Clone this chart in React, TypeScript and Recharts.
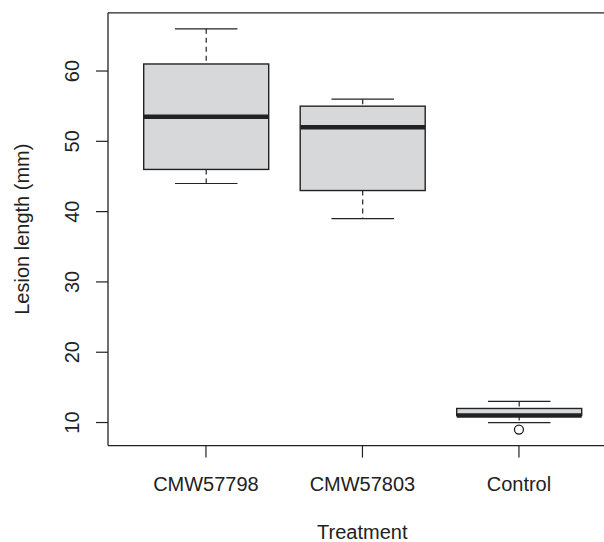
import { ComposedChart, Bar, Scatter, XAxis, YAxis, ReferenceLine } from "recharts"

const categories = ["CMW57798", "CMW57803", "Control"]
const whiskerLow = [44, 39, 10]
const lowerQuartile = [46, 43, 11]
const medians = [53.5, 52, 11]
const upperQuartile = [61, 55, 12]
const whiskerHigh = [66, 56, 13]
const outliers = [[], [], [9]]
const yTicks = [10, 20, 30, 40, 50, 60]

const FONT = "'Liberation Sans', Arial, sans-serif"
const INK = "#222"

const data = categories.map((name, i) => ({
  name,
  range: [whiskerLow[i], whiskerHigh[i]],
  min: whiskerLow[i],
  q1: lowerQuartile[i],
  median: medians[i],
  q3: upperQuartile[i],
  max: whiskerHigh[i],
}))

const outlierData = categories.flatMap((name, i) => outliers[i].map((value) => ({ name, value })))

// R style extents: data range padded by 4% on each side
const allValues = [...whiskerLow, ...whiskerHigh, ...outliers.flat()]
const lo = Math.min(...allValues)
const hi = Math.max(...allValues)
const pad = (hi - lo) * 0.04
const yDomain = [lo - pad, hi + pad]

function BoxShape(props: any) {
  const { x, y, width, height, payload } = props
  const top = Math.min(y, y + height)
  const h = Math.abs(height)
  const k = h / (payload.max - payload.min)
  const py = (v: number) => top + (payload.max - v) * k
  const cx = x + width / 2
  const capHalf = width / 4
  return (
    <g>
      <line x1={cx} x2={cx} y1={py(payload.max)} y2={py(payload.q3)} stroke={INK} strokeWidth={1.2} strokeDasharray="5 4" />
      <line x1={cx} x2={cx} y1={py(payload.q1)} y2={py(payload.min)} stroke={INK} strokeWidth={1.2} strokeDasharray="5 4" />
      <line x1={cx - capHalf} x2={cx + capHalf} y1={py(payload.max)} y2={py(payload.max)} stroke={INK} strokeWidth={1.2} />
      <line x1={cx - capHalf} x2={cx + capHalf} y1={py(payload.min)} y2={py(payload.min)} stroke={INK} strokeWidth={1.2} />
      <rect x={x} y={py(payload.q3)} width={width} height={py(payload.q1) - py(payload.q3)} fill="#d7d8da" stroke={INK} strokeWidth={1.4} />
      <line x1={x} x2={x + width} y1={py(payload.median)} y2={py(payload.median)} stroke={INK} strokeWidth={4.5} />
    </g>
  )
}

function Outlier(props: any) {
  const { cx, cy } = props
  return <circle cx={cx} cy={cy} r={4.5} fill="#fff" stroke={INK} strokeWidth={1.3} />
}

function YTick(props: any) {
  const { y, payload } = props
  return (
    <text x={79} y={y} transform={`rotate(-90, 79, ${y})`} textAnchor="middle" fontSize={20} fontFamily={FONT} fill={INK}>
      {payload.value}
    </text>
  )
}

function XTick(props: any) {
  const { x, payload } = props
  return (
    <text x={x} y={491} textAnchor="middle" fontSize={20} fontFamily={FONT} fill={INK}>
      {payload.value}
    </text>
  )
}

function YTitle(props: any) {
  const { viewBox } = props
  const cy = viewBox.y + viewBox.height / 2
  return (
    <text x={29} y={cy} transform={`rotate(-90, 29, ${cy})`} textAnchor="middle" fontSize={20} fontFamily={FONT} fill={INK}>
      Lesion length (mm)
    </text>
  )
}

function XTitle(props: any) {
  const { viewBox } = props
  const cx = viewBox.x + viewBox.width / 2
  return (
    <text x={cx} y={539} textAnchor="middle" fontSize={20} fontFamily={FONT} fill={INK}>
      Treatment
    </text>
  )
}

export default function App() {
  return (
    <div style={{ position: "absolute", left: 0, top: 0, width: 604, height: 542, overflow: "hidden", background: "#fff" }}>
      <ComposedChart width={620} height={542} data={data} margin={{ top: 12.8, right: 3.4, bottom: 0, left: 0 }}>
        <XAxis
          dataKey="name"
          type="category"
          allowDuplicatedCategory={false}
          padding={{ left: 19.7, right: 19.4 }}
          height={96.4}
          axisLine={{ stroke: INK, strokeWidth: 1.3 }}
          tickSize={12}
          tickLine={{ stroke: INK, strokeWidth: 1.2 }}
          tick={<XTick />}
          interval={0}
          label={{ content: <XTitle /> }}
        />
        <YAxis
          type="number"
          domain={yDomain}
          ticks={yTicks}
          width={108}
          axisLine={{ stroke: INK, strokeWidth: 1.3 }}
          tickSize={12}
          tickLine={{ stroke: INK, strokeWidth: 1.2 }}
          tick={<YTick />}
          allowDataOverflow
          label={{ content: <YTitle /> }}
        />
        <Bar dataKey="range" barSize={125} shape={<BoxShape />} isAnimationActive={false} />
        <Scatter data={outlierData} dataKey="value" shape={<Outlier />} isAnimationActive={false} />
        <ReferenceLine y={yDomain[1]} stroke={INK} strokeWidth={1.3} ifOverflow="visible" />
      </ComposedChart>
    </div>
  )
}
